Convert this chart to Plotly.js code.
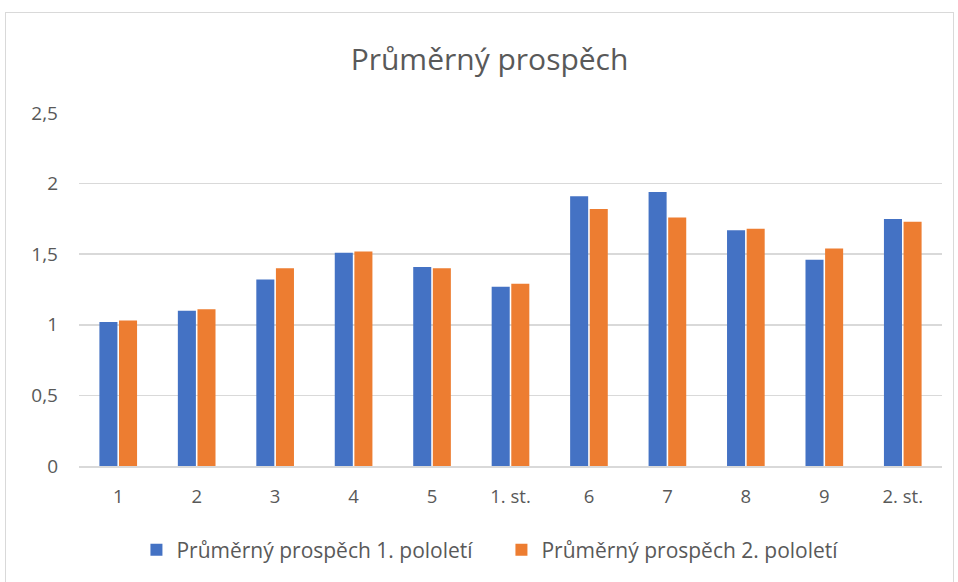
<!DOCTYPE html>
<html>
<head>
<meta charset="utf-8">
<script src="https://cdn.plot.ly/plotly-3.0.1.min.js"></script>
<style>
  html, body { margin: 0; padding: 0; background: #fff; }
  #frame { position: absolute; left: 5px; top: 12px; width: 949px; height: 600px; border: 1px solid #d9d9d9; box-sizing: border-box; }
  #chart { position: absolute; left: 0; top: 0; width: 958px; height: 582px; }
</style>
</head>
<body>
<div id="frame"></div>
<div id="chart"></div>
<script>
const categories = ["1", "2", "3", "4", "5", "1. st.", "6", "7", "8", "9", "2. st."];
const series1Name = "Průměrný prospěch 1. pololetí";
const series2Name = "Průměrný prospěch 2. pololetí";
const series1 = [1.02, 1.10, 1.32, 1.51, 1.41, 1.27, 1.91, 1.94, 1.67, 1.46, 1.75];
const series2 = [1.03, 1.11, 1.40, 1.52, 1.40, 1.29, 1.82, 1.76, 1.68, 1.54, 1.73];
const yTicks = [0, 0.5, 1, 1.5, 2, 2.5];

const font = "'Open Sans', Lato, sans-serif";
const data = [
  { type: "bar", name: series1Name, x: categories, y: series1, marker: { color: "#4472C4" } },
  { type: "bar", name: series2Name, x: categories, y: series2, marker: { color: "#ED7D31" } }
];
const layout = {
  width: 958, height: 582,
  paper_bgcolor: "rgba(0,0,0,0)", plot_bgcolor: "rgba(0,0,0,0)",
  separators: ", ",
  font: { family: font, color: "#595959", size: 18 },
  title: { text: "Průměrný prospěch", font: { size: 30, color: "#595959", family: font }, x: 0.511, xanchor: "center", y: 0.897, yanchor: "middle" },
  margin: { l: 79, r: 16, t: 113, b: 116 },
  barmode: "group", bargap: 0.5, bargroupgap: 0.08,
  xaxis: { type: "category", showgrid: false, showline: true, linecolor: "#d9d9d9", linewidth: 1.5, ticks: "", ticklabelstandoff: 13, tickfont: { size: 18.5, color: "#595959" } },
  yaxis: { range: [0, 2.5], tickvals: yTicks, showgrid: true, gridcolor: "#d9d9d9", gridwidth: 1.5, zeroline: false, showline: false, ticks: "", ticklabelstandoff: 20, tickfont: { size: 19, color: "#595959" } },
  legend: { orientation: "h", x: 0.4895, xanchor: "center", y: -0.238, yanchor: "middle", font: { size: 21, color: "#595959" }, itemwidth: 30, entrywidth: 320, entrywidthmode: "pixels" },
  showlegend: true
};
Plotly.newPlot("chart", data, layout, { displayModeBar: false, staticPlot: true });
</script>
</body>
</html>
